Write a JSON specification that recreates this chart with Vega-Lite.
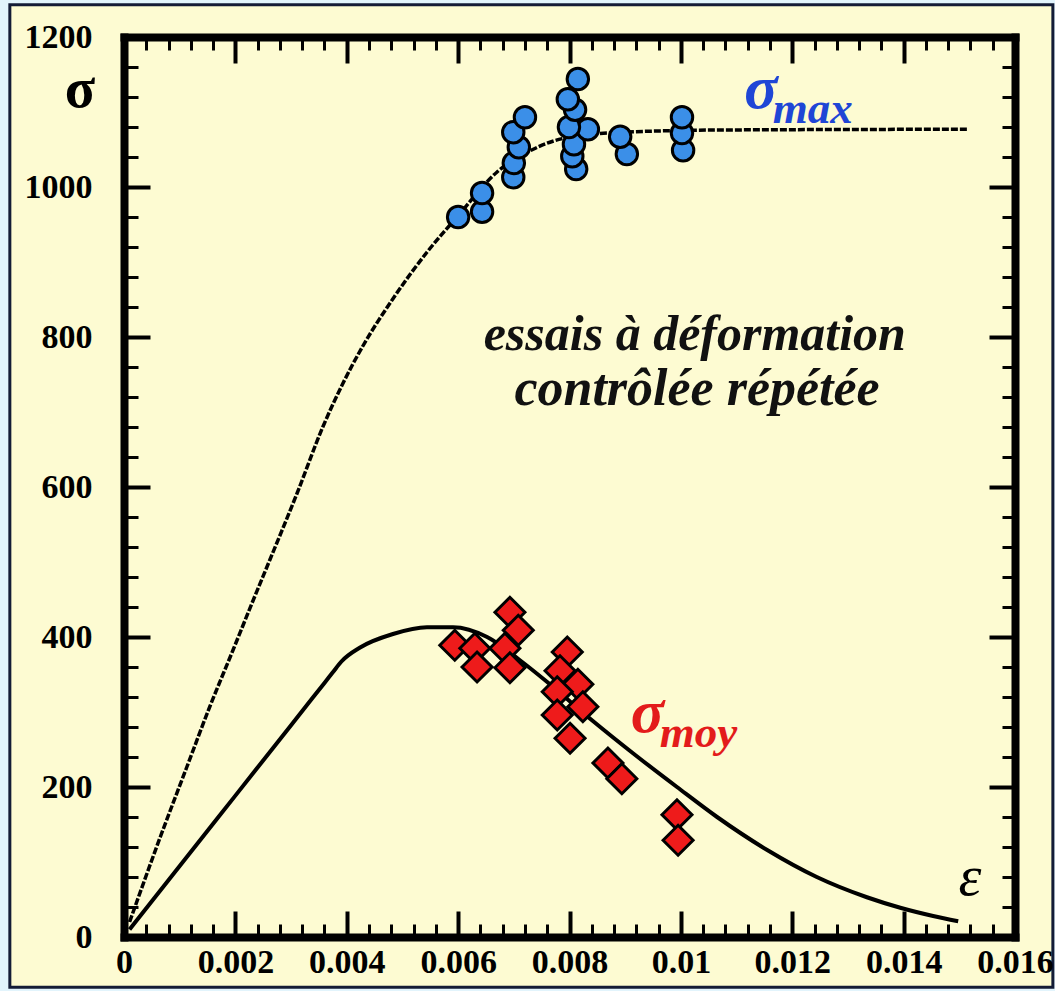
{
  "$schema": "https://vega.github.io/schema/vega-lite/v6.json",
  "width": 891,
  "height": 900,
  "autosize": "none",
  "padding": {"left": 124, "top": 37, "right": 40, "bottom": 54},
  "background": "#e2f4fc",
  "config": {"view": {"stroke": null}},
  "datasets": {
    "courbeMax": [
      {"eps": 0.0001, "sigma": 20}, {"eps": 0.00065, "sigma": 133}, {"eps": 0.00113, "sigma": 227},
      {"eps": 0.00154, "sigma": 307}, {"eps": 0.00196, "sigma": 383}, {"eps": 0.00232, "sigma": 449},
      {"eps": 0.00262, "sigma": 503}, {"eps": 0.00311, "sigma": 592}, {"eps": 0.00357, "sigma": 680},
      {"eps": 0.00393, "sigma": 738}, {"eps": 0.00429, "sigma": 788}, {"eps": 0.00483, "sigma": 851},
      {"eps": 0.00544, "sigma": 913}, {"eps": 0.00598, "sigma": 960}, {"eps": 0.0067, "sigma": 1020},
      {"eps": 0.00734, "sigma": 1050}, {"eps": 0.0077, "sigma": 1061}, {"eps": 0.00867, "sigma": 1072},
      {"eps": 0.0107, "sigma": 1076}, {"eps": 0.01514, "sigma": 1077}
    ],
    "courbeMoy": [
      {"eps": 0.0001, "sigma": 10}, {"eps": 0.001, "sigma": 94.6}, {"eps": 0.002, "sigma": 188.5},
      {"eps": 0.003, "sigma": 282.4}, {"eps": 0.0036, "sigma": 338.8}, {"eps": 0.00375, "sigma": 352.9},
      {"eps": 0.0039, "sigma": 367},
      {"eps": 0.00424, "sigma": 386}, {"eps": 0.00483, "sigma": 404}, {"eps": 0.00544, "sigma": 413},
      {"eps": 0.00591, "sigma": 413}, {"eps": 0.00652, "sigma": 400}, {"eps": 0.00711, "sigma": 369},
      {"eps": 0.0076, "sigma": 340}, {"eps": 0.00842, "sigma": 288}, {"eps": 0.00914, "sigma": 245},
      {"eps": 0.00993, "sigma": 200}, {"eps": 0.01065, "sigma": 160}, {"eps": 0.01155, "sigma": 116},
      {"eps": 0.01244, "sigma": 80}, {"eps": 0.01334, "sigma": 53}, {"eps": 0.01394, "sigma": 39},
      {"eps": 0.01453, "sigma": 28}, {"eps": 0.01498, "sigma": 21}
    ],
    "essaisMax": [
      {"eps": 0.00600, "sigma": 960}, {"eps": 0.00643, "sigma": 967}, {"eps": 0.00643, "sigma": 992},
      {"eps": 0.00699, "sigma": 1013}, {"eps": 0.00700, "sigma": 1032}, {"eps": 0.00709, "sigma": 1053},
      {"eps": 0.00699, "sigma": 1073}, {"eps": 0.00720, "sigma": 1093}, {"eps": 0.00812, "sigma": 1024},
      {"eps": 0.00805, "sigma": 1041}, {"eps": 0.00808, "sigma": 1057}, {"eps": 0.00833, "sigma": 1077},
      {"eps": 0.00799, "sigma": 1080}, {"eps": 0.00810, "sigma": 1103}, {"eps": 0.00797, "sigma": 1117},
      {"eps": 0.00815, "sigma": 1144}, {"eps": 0.00903, "sigma": 1044}, {"eps": 0.00891, "sigma": 1067},
      {"eps": 0.01004, "sigma": 1049}, {"eps": 0.01002, "sigma": 1072}, {"eps": 0.01002, "sigma": 1093}
    ],
    "essaisMoy": [
      {"eps": 0.00693, "sigma": 433}, {"eps": 0.00708, "sigma": 409}, {"eps": 0.00594, "sigma": 389},
      {"eps": 0.00630, "sigma": 385}, {"eps": 0.00684, "sigma": 385}, {"eps": 0.00634, "sigma": 360},
      {"eps": 0.00693, "sigma": 359}, {"eps": 0.00796, "sigma": 380}, {"eps": 0.00783, "sigma": 355},
      {"eps": 0.00815, "sigma": 337}, {"eps": 0.00778, "sigma": 327}, {"eps": 0.00824, "sigma": 307},
      {"eps": 0.00778, "sigma": 296}, {"eps": 0.00801, "sigma": 265}, {"eps": 0.00869, "sigma": 232},
      {"eps": 0.00894, "sigma": 211}, {"eps": 0.00993, "sigma": 163}, {"eps": 0.00995, "sigma": 129}
    ]
  },
  "resolve": {"axis": {"x": "independent", "y": "independent"}},
  "layer": [
    {
      "data": {"values": [{"zone": "fond"}]},
      "mark": {"type": "rect", "fill": "#fdfbd2", "stroke": "#141c36", "strokeWidth": 3},
      "encoding": {
        "x": {"datum": -0.00205, "type": "quantitative", "axis": null, "scale": {"domain": [0, 0.016], "nice": false, "zero": false}},
        "x2": {"datum": 0.01668},
        "y": {"datum": 1243, "type": "quantitative", "axis": null, "scale": {"domain": [0, 1200], "nice": false, "zero": false}},
        "y2": {"datum": -67}
      }
    },
    {
      "data": {"name": "courbeMoy"},
      "mark": {"type": "line", "color": "black", "strokeWidth": 4, "interpolate": "monotone"},
      "encoding": {
        "x": {"field": "eps", "type": "quantitative", "axis": {
          "orient": "bottom", "title": null, "grid": false, "domain": false, "labels": false, "zindex": 1,
          "values": [0.0004, 0.0008, 0.0012, 0.0016, 0.0024, 0.0028, 0.0032, 0.0036, 0.0044, 0.0048, 0.0052, 0.0056, 0.0064, 0.0068, 0.0072, 0.0076, 0.0084, 0.0088, 0.0092, 0.0096, 0.0104, 0.0108, 0.0112, 0.0116, 0.0124, 0.0128, 0.0132, 0.0136, 0.0144, 0.0148, 0.0152, 0.0156],
          "tickSize": -13, "tickWidth": 3, "tickColor": "black"}},
        "y": {"field": "sigma", "type": "quantitative", "axis": {
          "orient": "left", "title": null, "grid": false, "domain": false, "labels": false, "zindex": 1,
          "values": [40, 80, 120, 160, 240, 280, 320, 360, 440, 480, 520, 560, 640, 680, 720, 760, 840, 880, 920, 960, 1040, 1080, 1120, 1160],
          "tickSize": -14, "tickWidth": 3, "tickColor": "black"}}
      }
    },
    {
      "data": {"name": "courbeMax"},
      "mark": {"type": "line", "color": "black", "strokeWidth": 3.5, "strokeDash": [7, 2], "interpolate": "monotone"},
      "encoding": {
        "x": {"field": "eps", "type": "quantitative", "axis": {
          "orient": "top", "title": null, "grid": false, "domain": false, "labels": false, "zindex": 1,
          "values": [0.0004, 0.0008, 0.0012, 0.0016, 0.0024, 0.0028, 0.0032, 0.0036, 0.0044, 0.0048, 0.0052, 0.0056, 0.0064, 0.0068, 0.0072, 0.0076, 0.0084, 0.0088, 0.0092, 0.0096, 0.0104, 0.0108, 0.0112, 0.0116, 0.0124, 0.0128, 0.0132, 0.0136, 0.0144, 0.0148, 0.0152, 0.0156],
          "tickSize": -13, "tickWidth": 3, "tickColor": "black"}},
        "y": {"field": "sigma", "type": "quantitative", "axis": {
          "orient": "right", "title": null, "grid": false, "domain": false, "labels": false, "zindex": 1,
          "values": [40, 80, 120, 160, 240, 280, 320, 360, 440, 480, 520, 560, 640, 680, 720, 760, 840, 880, 920, 960, 1040, 1080, 1120, 1160],
          "tickSize": -13, "tickWidth": 3, "tickColor": "black"}}
      }
    },
    {
      "data": {"name": "essaisMax"},
      "mark": {"type": "point", "shape": "circle", "filled": true, "fill": "#3b8fe8", "stroke": "black", "strokeWidth": 3, "opacity": 1, "size": 460},
      "encoding": {
        "x": {"field": "eps", "type": "quantitative", "axis": {
          "orient": "bottom", "title": null, "grid": false, "zindex": 1,
          "values": [0, 0.002, 0.004, 0.006, 0.008, 0.01, 0.012, 0.014, 0.016], "format": "~g",
          "domain": true, "domainColor": "black", "domainWidth": 8, "domainCap": "square",
          "tickSize": -26, "tickWidth": 4, "tickColor": "black",
          "labelFont": "Liberation Serif", "labelFontSize": 34, "labelFontWeight": "bold", "labelColor": "black",
          "labelPadding": 34, "labelFlush": false, "labelOverlap": false, "labelBound": false}},
        "y": {"field": "sigma", "type": "quantitative", "axis": {
          "orient": "left", "title": null, "grid": false, "zindex": 1,
          "values": [0, 200, 400, 600, 800, 1000, 1200], "format": "d",
          "domain": true, "domainColor": "black", "domainWidth": 8, "domainCap": "square",
          "tickSize": -26, "tickWidth": 4, "tickColor": "black",
          "labelFont": "Liberation Serif", "labelFontSize": 34, "labelFontWeight": "bold", "labelColor": "black",
          "labelPadding": 58, "labelFlush": false, "labelOverlap": false, "labelBound": false}}
      }
    },
    {
      "data": {"name": "essaisMoy"},
      "mark": {"type": "point", "shape": "diamond", "filled": true, "fill": "#ee1b1b", "stroke": "black", "strokeWidth": 3, "opacity": 1, "size": 900},
      "encoding": {
        "x": {"field": "eps", "type": "quantitative", "axis": {
          "orient": "top", "title": null, "grid": false, "labels": false, "zindex": 1,
          "values": [0, 0.002, 0.004, 0.006, 0.008, 0.01, 0.012, 0.014, 0.016],
          "domain": true, "domainColor": "black", "domainWidth": 8, "domainCap": "square",
          "tickSize": -26, "tickWidth": 4, "tickColor": "black"}},
        "y": {"field": "sigma", "type": "quantitative", "axis": {
          "orient": "right", "title": null, "grid": false, "labels": false, "zindex": 1,
          "values": [0, 200, 400, 600, 800, 1000, 1200],
          "domain": true, "domainColor": "black", "domainWidth": 8, "domainCap": "square",
          "tickSize": -26, "tickWidth": 4, "tickColor": "black"}}
      }
    },
    {
      "data": {"values": [{"texte": "σ"}]},
      "mark": {"type": "text", "font": "Liberation Serif", "fontSize": 56, "fontWeight": "bold", "align": "center", "baseline": "alphabetic", "color": "black"},
      "encoding": {
        "text": {"field": "texte"},
        "x": {"datum": -0.00079, "type": "quantitative", "axis": null},
        "y": {"datum": 1107, "type": "quantitative", "axis": null}
      }
    },
    {
      "data": {"values": [{"texte": "σ"}]},
      "mark": {"type": "text", "font": "Liberation Serif", "fontSize": 62, "fontStyle": "italic", "fontWeight": "bold", "align": "center", "baseline": "alphabetic", "color": "#1f46d6"},
      "encoding": {
        "text": {"field": "texte"},
        "x": {"datum": 0.01144, "type": "quantitative", "axis": null},
        "y": {"datum": 1105, "type": "quantitative", "axis": null}
      }
    },
    {
      "data": {"values": [{"texte": "max"}]},
      "mark": {"type": "text", "font": "Liberation Serif", "fontSize": 45, "fontStyle": "italic", "fontWeight": "bold", "align": "left", "baseline": "alphabetic", "color": "#1f46d6"},
      "encoding": {
        "text": {"field": "texte"},
        "x": {"datum": 0.01165, "type": "quantitative", "axis": null},
        "y": {"datum": 1085, "type": "quantitative", "axis": null}
      }
    },
    {
      "data": {"values": [{"texte": "σ"}]},
      "mark": {"type": "text", "font": "Liberation Serif", "fontSize": 62, "fontStyle": "italic", "fontWeight": "bold", "align": "center", "baseline": "alphabetic", "color": "#e31b1b"},
      "encoding": {
        "text": {"field": "texte"},
        "x": {"datum": 0.0094, "type": "quantitative", "axis": null},
        "y": {"datum": 273, "type": "quantitative", "axis": null}
      }
    },
    {
      "data": {"values": [{"texte": "moy"}]},
      "mark": {"type": "text", "font": "Liberation Serif", "fontSize": 45, "fontStyle": "italic", "fontWeight": "bold", "align": "left", "baseline": "alphabetic", "color": "#e31b1b"},
      "encoding": {
        "text": {"field": "texte"},
        "x": {"datum": 0.00962, "type": "quantitative", "axis": null},
        "y": {"datum": 253, "type": "quantitative", "axis": null}
      }
    },
    {
      "data": {"values": [{"texte": "ε"}]},
      "mark": {"type": "text", "font": "Liberation Serif", "fontSize": 58, "fontStyle": "italic", "align": "center", "baseline": "alphabetic", "color": "black"},
      "encoding": {
        "text": {"field": "texte"},
        "x": {"datum": 0.01519, "type": "quantitative", "axis": null},
        "y": {"datum": 56, "type": "quantitative", "axis": null}
      }
    },
    {
      "data": {"values": [{"texte": "essais à déformation"}]},
      "mark": {"type": "text", "font": "Liberation Serif", "fontSize": 50, "fontStyle": "italic", "fontWeight": "bold", "align": "center", "baseline": "alphabetic", "color": "#111111"},
      "encoding": {
        "text": {"field": "texte"},
        "x": {"datum": 0.01025, "type": "quantitative", "axis": null},
        "y": {"datum": 783, "type": "quantitative", "axis": null}
      }
    },
    {
      "data": {"values": [{"texte": "contrôlée répétée"}]},
      "mark": {"type": "text", "font": "Liberation Serif", "fontSize": 52, "fontStyle": "italic", "fontWeight": "bold", "align": "center", "baseline": "alphabetic", "color": "#111111"},
      "encoding": {
        "text": {"field": "texte"},
        "x": {"datum": 0.01029, "type": "quantitative", "axis": null},
        "y": {"datum": 709, "type": "quantitative", "axis": null}
      }
    }
  ]
}
